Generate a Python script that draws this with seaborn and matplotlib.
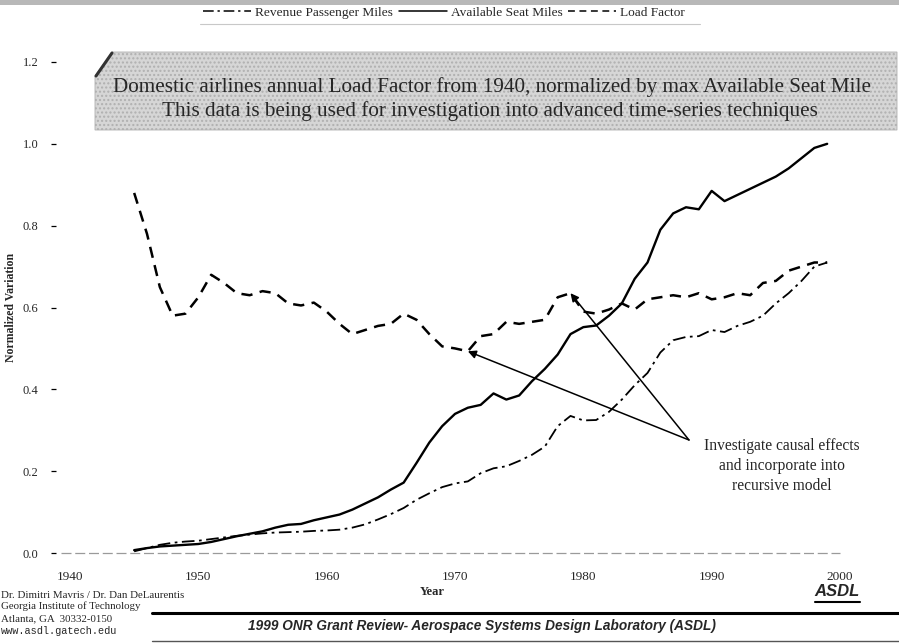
import numpy as np
import pandas as pd
import matplotlib.pyplot as plt
import seaborn as sns
from matplotlib.patches import Polygon, Rectangle
from matplotlib.lines import Line2D

sns.set_theme(style="white")
plt.rcParams['font.family'] = ['Liberation Serif', 'DejaVu Serif']

# --- data (normalized by max Available Seat Miles) ---
years = list(range(1945, 2000))
asm = [0.007, 0.012, 0.016, 0.018, 0.020, 0.022, 0.027, 0.034, 0.041, 0.047,
       0.053, 0.062, 0.069, 0.071, 0.080, 0.087, 0.094, 0.106, 0.121, 0.136,
       0.155, 0.172, 0.220, 0.270, 0.310, 0.340, 0.355, 0.362, 0.390, 0.375,
       0.385, 0.420, 0.450, 0.485, 0.535, 0.552, 0.556, 0.580, 0.610, 0.670,
       0.710, 0.790, 0.830, 0.845, 0.840, 0.885, 0.860, 0.875, 0.890, 0.905,
       0.920, 0.940, 0.965, 0.990, 1.000]
load_factor = [0.880, 0.780, 0.650, 0.580, 0.585, 0.625, 0.680, 0.660, 0.635, 0.630,
               0.640, 0.635, 0.610, 0.605, 0.612, 0.590, 0.560, 0.535, 0.545, 0.555,
               0.560, 0.585, 0.570, 0.535, 0.505, 0.500, 0.493, 0.530, 0.535, 0.565,
               0.560, 0.565, 0.570, 0.625, 0.635, 0.590, 0.585, 0.595, 0.610, 0.595,
               0.620, 0.625, 0.630, 0.625, 0.635, 0.620, 0.625, 0.635, 0.630, 0.660,
               0.665, 0.690, 0.700, 0.710, 0.710]
rpm = [0.004, 0.012, 0.020, 0.025, 0.028, 0.030, 0.034, 0.038, 0.042, 0.045,
       0.048, 0.050, 0.051, 0.052, 0.054, 0.055, 0.057, 0.062, 0.070, 0.082,
       0.095, 0.110, 0.130, 0.146, 0.161, 0.170, 0.175, 0.195, 0.207, 0.212,
       0.225, 0.240, 0.260, 0.310, 0.335, 0.324, 0.325, 0.345, 0.375, 0.410,
       0.440, 0.490, 0.520, 0.528, 0.530, 0.545, 0.540, 0.555, 0.565, 0.580,
       0.610, 0.635, 0.665, 0.700, 0.710]

y_ticks = [0.0, 0.2, 0.4, 0.6, 0.8, 1.0, 1.2]
x_ticks = [1940, 1950, 1960, 1970, 1980, 1990, 2000]
arrow_years = [1971, 1979]

df = pd.DataFrame({'Year': years, 'Revenue Passenger Miles': rpm,
                   'Available Seat Miles': asm, 'Load Factor': load_factor})

W, H = 899, 644
fig = plt.figure(figsize=(W / 100, H / 100), dpi=100)

def fx(px):
    return px / W

def fy(py):
    return 1 - py / H

# axes placed so that 1940 -> x=70px, 2000 -> x=840px, 0.0 -> y=553px, 1.2 -> y=62px
x0, x1 = 70, 840
ax = fig.add_axes([fx(56), fy(560), fx(850 - 56), fy(55) - fy(560)])
ppy = (x1 - x0) / 60.0
ppv = (553 - 62) / 1.2
ax.set_xlim(1940 - (x0 - 56) / ppy, 2000 + (850 - x1) / ppy)
ax.set_ylim(-(560 - 553) / ppv, 1.2 + (62 - 55) / ppv)

sns.lineplot(data=df, x='Year', y='Revenue Passenger Miles', ax=ax, color='black',
             lw=1.3, linestyle=(0, (7, 2.5, 1.5, 2.5)), label='Revenue Passenger Miles')
sns.lineplot(data=df, x='Year', y='Available Seat Miles', ax=ax, color='black',
             lw=1.7, label='Available Seat Miles')
sns.lineplot(data=df, x='Year', y='Load Factor', ax=ax, color='black',
             lw=1.8, linestyle=(0, (4.5, 3)), label='Load Factor')

# faint baseline along zero
ax.hlines(0, 1939.3, 2000, color='#9a9a9a', lw=0.9, linestyle=(0, (8, 3)))

for s in ax.spines.values():
    s.set_visible(False)
ax.set_xticks(x_ticks)
ax.set_yticks(y_ticks)
ax.set_yticklabels([f'{v:.1f}' for v in y_ticks], fontsize=9)
ax.set_xticklabels([str(v) for v in x_ticks], fontsize=9.5)
ax.tick_params(axis='y', left=True, length=3.5, width=0.9, color='black', pad=9)
ax.tick_params(axis='x', bottom=False, pad=2)
ax.set_xlabel('')
ax.set_ylabel('')
ax.legend_.remove()
fig.text(fx(432), fy(592), 'Year', fontsize=9, fontweight='bold', ha='center', va='center')
fig.text(fx(11), fy(307), 'Normalized Variation', fontsize=8.5, fontweight='bold',
         ha='center', va='center', rotation=90)

# legend strip at the top
handles = [Line2D([], [], color='black', lw=1.1, linestyle=(0, (7, 2.5, 1.5, 2.5))),
           Line2D([], [], color='black', lw=1.1),
           Line2D([], [], color='black', lw=1.1, linestyle=(0, (4.5, 3)))]
fig.legend(handles, ['Revenue Passenger Miles', 'Available Seat Miles', 'Load Factor'],
           loc='center', bbox_to_anchor=(fx(444), fy(13)), ncol=3, frameon=False,
           fontsize=9.6, handlelength=3.6, handletextpad=0.3, columnspacing=0.4)
fig.patches.append(Rectangle((0, fy(5)), 1, fy(0) - fy(5), transform=fig.transFigure,
                             facecolor='#b8b8b8', edgecolor='none'))
fig.lines.append(Line2D([fx(200), fx(700)], [fy(24), fy(24)], transform=fig.transFigure,
                        color='#c8c8c8', lw=0.8))

# title box with bevelled top-left corner
box = Polygon([(fx(95), fy(130)), (fx(95), fy(76)), (fx(112), fy(52)), (fx(897), fy(52)),
               (fx(897), fy(130))], closed=True, transform=fig.transFigure,
              facecolor='#d6d6d6', edgecolor='#b0b0b0', hatch='....', lw=0.6, zorder=0)
fig.patches.append(box)
fig.lines.append(Line2D([fx(96), fx(112)], [fy(76), fy(53)], transform=fig.transFigure,
                        color='#333333', lw=2.2))
fig.text(fx(492), fy(87), 'Domestic airlines annual Load Factor from 1940, normalized by max Available Seat Mile',
         ha='center', va='center', fontsize=15.2)
fig.text(fx(490), fy(111), 'This data is being used for investigation into advanced time-series techniques',
         ha='center', va='center', fontsize=15.2)

# annotation arrows to the load factor curve
tail = (1940 + (689 - x0) / ppy, (553 - 440) / ppv)
for yr in arrow_years:
    ax.annotate('', xy=(yr, load_factor[years.index(yr)]), xytext=tail,
                arrowprops=dict(arrowstyle='-|>', color='black', lw=1.1,
                                mutation_scale=12, shrinkA=0, shrinkB=0))
ax.text(1940 + (782 - x0) / ppy, (553 - 466) / ppv,
        'Investigate causal effects\nand incorporate into\nrecursive model',
        ha='center', va='center', fontsize=11.2, linespacing=1.3)

# footer
fig.text(fx(1), fy(595), 'Dr. Dimitri Mavris / Dr. Dan DeLaurentis', fontsize=7.8, va='center')
fig.text(fx(1), fy(606), 'Georgia Institute of Technology', fontsize=7.8, va='center')
fig.text(fx(1), fy(619), 'Atlanta, GA  30332-0150', fontsize=7.8, va='center')
fig.text(fx(1), fy(631), 'www.asdl.gatech.edu', fontsize=7.4, va='center',
         family=['Liberation Mono', 'DejaVu Sans Mono'])
fig.lines.append(Line2D([fx(152), fx(899)], [fy(613), fy(613)], transform=fig.transFigure,
                        color='black', lw=2.2))
fig.lines.append(Line2D([fx(152), fx(899)], [fy(641), fy(641)], transform=fig.transFigure,
                        color='#555555', lw=1.0))
fig.text(fx(248), fy(626), '1999 ONR Grant Review- Aerospace Systems Design Laboratory (ASDL)',
         fontsize=9.8, va='center', style='italic', fontweight='bold',
         family=['Liberation Sans', 'DejaVu Sans'])
fig.text(fx(860), fy(592), 'ASDL', fontsize=12, va='center', ha='right', style='italic',
         fontweight='bold', family=['Liberation Sans', 'DejaVu Sans'])
fig.lines.append(Line2D([fx(815), fx(860)], [fy(602), fy(602)], transform=fig.transFigure,
                        color='black', lw=1.5))

fig.savefig('out.png', dpi=100)
